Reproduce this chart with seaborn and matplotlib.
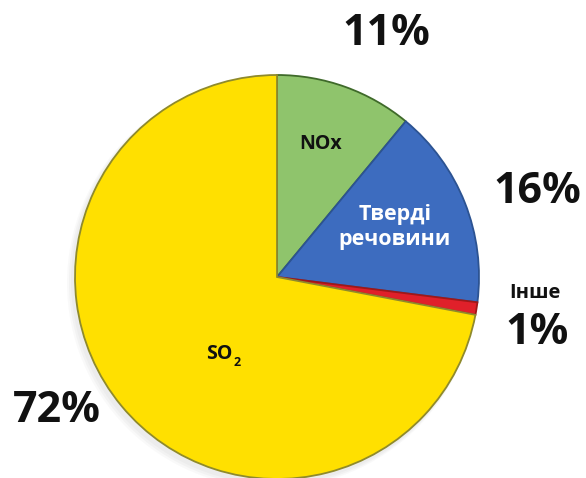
import matplotlib
matplotlib.use("Agg")
import matplotlib.pyplot as plt
import seaborn as sns

# Emission shares by pollutant, drawn clockwise from 12 o'clock
categories = ["NOx", "Тверді\nречовини", "Інше", "SO₂"]
shares = [11, 16, 1, 72]
pct_labels = ["11%", "16%", "1%", "72%"]
colors = ["#8fc46c", "#3d6cbf", "#e0202a", "#ffe000"]
edge_colors = ["#3f6a2a", "#2c5392", "#a01818", "#8f8a2c"]

sns.set_theme(style="white")
plt.rcParams["font.family"] = ["Open Sans", "DejaVu Sans"]

W, H = 586, 478
fig = plt.figure(figsize=(W / 100, H / 100), dpi=100)
ax = fig.add_axes([0, 0, 1, 1])

cx, cy, r = 277, H - 277, 202

# soft drop shadow beneath the pie
for i, a in enumerate([0.05, 0.05, 0.04]):
    ax.add_patch(plt.Circle((cx - 3 - i, cy - 4 - i), r + 1 + i, color="#777777",
                            alpha=a, zorder=0, lw=0))

wedges, _ = ax.pie(shares, colors=colors, startangle=90, counterclock=False,
                   center=(cx, cy), radius=r, frame=True,
                   wedgeprops=dict(linewidth=1.3))
for w, ec in zip(wedges, edge_colors):
    w.set_edgecolor(ec)
    w.set_zorder(2)
ax.set_xlim(0, W)
ax.set_ylim(0, H)
ax.set_aspect("equal")
ax.axis("off")

dark = "#111111"
# labels inside the slices
ax.text(321, H - 144, categories[0], ha="center", va="center",
        fontsize=14, fontweight="bold", color=dark, zorder=3)
ax.text(395, H - 227, categories[1], ha="center", va="center",
        fontsize=15.5, fontweight="bold", color="white", linespacing=1.2, zorder=3)
ax.text(535, H - 293, categories[2], ha="center", va="center",
        fontsize=14.5, fontweight="bold", color=dark, zorder=3)

# SO2 label with a lowered, smaller subscript digit
so_base = categories[3][:-1]
ax.text(232, H - 354, so_base, ha="right", va="center",
        fontsize=14, fontweight="bold", color=dark, zorder=3)
ax.text(234, H - 362, "2", ha="left", va="center",
        fontsize=9, fontweight="bold", color=dark, zorder=3)

# percentage labels around the pie
pct_pos = [(386, 33), (537, 191), (537, 332), (57, 410)]
for txt, (x, y) in zip(pct_labels, pct_pos):
    ax.text(x, H - y, txt, ha="center", va="center",
            fontsize=31, fontweight="bold", color=dark)

fig.savefig("out.png", dpi=100, facecolor="white")
